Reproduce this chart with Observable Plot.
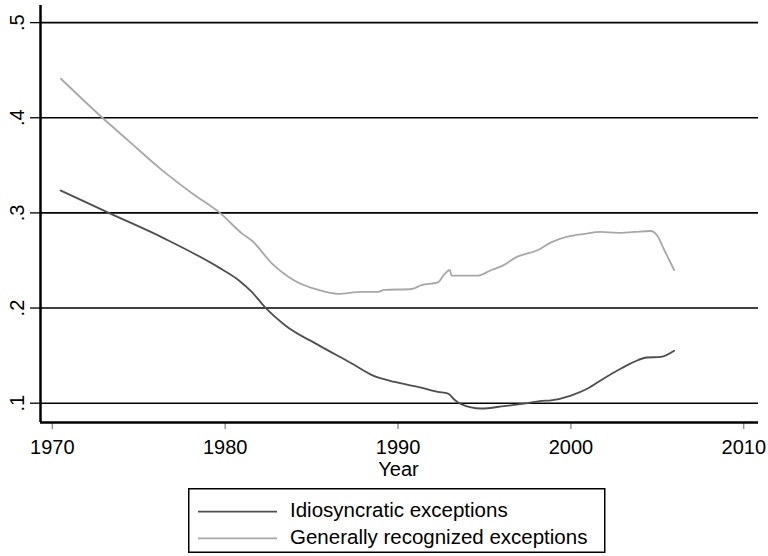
<!DOCTYPE html>
<html>
<head>
<meta charset="utf-8">
<script src="https://cdn.jsdelivr.net/npm/d3@7"></script>
<script src="https://cdn.jsdelivr.net/npm/@observablehq/plot@0.6"></script>
<style>
  html, body { margin: 0; padding: 0; background: #fff; }
  #wrap { position: relative; width: 768px; height: 556px; font-family: "Liberation Sans", Arial, sans-serif; }
  #chart { position: absolute; left: 0; top: 0; }
  #legend { position: absolute; left: 188px; top: 488px; }
</style>
</head>
<body>
<div id="wrap">
  <div id="chart"></div>
  <svg id="legend" width="418" height="66"></svg>
</div>
<script>
// Generally recognized exceptions
const genYears  = [1970.5, 1972.9, 1974.4, 1976.35, 1978.1, 1979.7, 1981.0, 1981.54, 1982.7, 1984.0, 1985.4, 1986.5, 1987.9, 1988.85, 1989.2, 1990.8, 1991.35, 1992.3, 1992.7, 1993.0, 1993.1, 1994.6, 1995.4, 1996.0, 1996.9, 1998.1, 1998.85, 1999.8, 2000.8, 2001.7, 2002.7, 2003.65, 2004.6, 2005.0, 2005.4, 2005.97];
const genValues = [0.441, 0.400, 0.376, 0.345, 0.3205, 0.300, 0.278, 0.271, 0.247, 0.229, 0.219, 0.215, 0.217, 0.217, 0.219, 0.220, 0.224, 0.227, 0.236, 0.240, 0.234, 0.234, 0.240, 0.244, 0.254, 0.261, 0.269, 0.275, 0.278, 0.280, 0.279, 0.280, 0.281, 0.276, 0.261, 0.240];

// Idiosyncratic exceptions
const idioYears  = [1970.48, 1973.27, 1976.5, 1979.6, 1980.8, 1981.54, 1982.4, 1983.46, 1985.4, 1987.3, 1988.56, 1989.8, 1991.2, 1992.3, 1992.9, 1993.3, 1993.65, 1994.8, 1996.15, 1997.5, 1998.3, 1998.85, 2000.0, 2000.97, 2001.9, 2002.9, 2003.65, 2004.4, 2005.2, 2005.97];
const idioValues = [0.3236, 0.300, 0.273, 0.243, 0.229, 0.217, 0.199, 0.182, 0.161, 0.142, 0.129, 0.1224, 0.117, 0.112, 0.110, 0.103, 0.099, 0.0944, 0.097, 0.100, 0.1024, 0.103, 0.108, 0.1154, 0.126, 0.1364, 0.1434, 0.148, 0.1486, 0.155];

const xTicks = [1970, 1980, 1990, 2000, 2010];
const yTicks = [0.1, 0.2, 0.3, 0.4, 0.5];
const yTickLabels = [".1", ".2", ".3", ".4", ".5"];
const seriesNames = ["Idiosyncratic exceptions", "Generally recognized exceptions"];
const seriesColors = ["#4f4f4f", "#a8a8a8"];

const gen = genYears.map((x, i) => ({x, y: genValues[i]}));
const idio = idioYears.map((x, i) => ({x, y: idioValues[i]}));
const yLab = yTicks.map((v, i) => ({v, t: yTickLabels[i]}));

const xDom = [1969.32, 2010.85];
const yDom = [0.0797, 0.518];

const chart = Plot.plot({
  width: 768,
  height: 480,
  marginLeft: 40,
  marginRight: 10,
  marginTop: 5,
  marginBottom: 58,
  x: {domain: xDom},
  y: {domain: yDom},
  style: {fontFamily: "'Liberation Sans', Arial, sans-serif", fontSize: "20px", background: "white", color: "#000"},
  marks: [
    Plot.ruleY(yTicks, {stroke: "#000", strokeWidth: 1.6}),
    Plot.line(idio, {x: "x", y: "y", stroke: seriesColors[0], strokeWidth: 1.8, curve: "monotone-x"}),
    Plot.line(gen, {x: "x", y: "y", stroke: seriesColors[1], strokeWidth: 1.8, curve: "monotone-x"}),
    Plot.axisX({ticks: xTicks, tickSize: 7, tickPadding: 10, tickFormat: "d", fontSize: 20, stroke: "#666", label: null}),
    Plot.text(["Year"], {frameAnchor: "bottom", dy: 53, lineAnchor: "bottom", fontSize: 20, dx: -1}),
    Plot.axisY({ticks: yTicks, tickSize: 10, tickFormat: () => "", label: null, stroke: "#000", strokeWidth: 1.3}),
    Plot.text(yLab, {x: () => xDom[0], y: "v", text: "t", rotate: -90, dx: -16.7, textAnchor: "middle", lineAnchor: "bottom", fontSize: 20}),
    Plot.ruleX([xDom[0]], {stroke: "#000", strokeWidth: 2.5}),
    Plot.ruleY([yDom[0]], {stroke: "#000", strokeWidth: 2.5})
  ]
});
document.getElementById("chart").appendChild(chart);

// Legend
const lg = d3.select("#legend");
lg.append("rect").attr("x", 0.75).attr("y", 0.75).attr("width", 416).attr("height", 63.5)
  .attr("fill", "white").attr("stroke", "#000").attr("stroke-width", 1.5);
seriesNames.forEach((name, i) => {
  const yl = 23.7 + i * 26.6;
  lg.append("line").attr("x1", 10).attr("x2", 89).attr("y1", yl).attr("y2", yl)
    .attr("stroke", seriesColors[i]).attr("stroke-width", 1.8);
  lg.append("text").attr("x", 102).attr("y", 29 + i * 26.8)
    .attr("font-family", "'Liberation Sans', Arial, sans-serif").attr("font-size", 20.5)
    .attr("fill", "#000").text(name);
});
</script>
</body>
</html>
